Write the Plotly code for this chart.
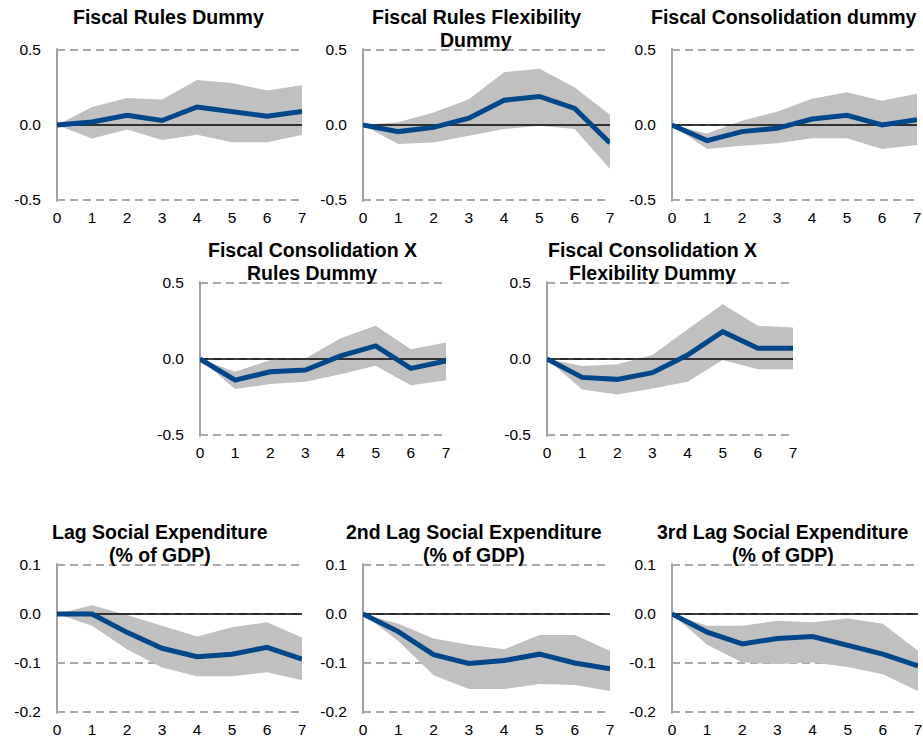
import plotly.graph_objects as go

steps = [0, 1, 2, 3, 4, 5, 6, 7]

# Panel data: (mid, low, high)
fr_mid = [0, 0.02, 0.065, 0.03, 0.12, 0.085, 0.058, 0.09]
fr_lo = [0, -0.09, -0.03, -0.10, -0.065, -0.115, -0.115, -0.067]
fr_hi = [0, 0.12, 0.18, 0.17, 0.30, 0.28, 0.23, 0.265]

frf_mid = [0, -0.044, -0.016, 0.045, 0.165, 0.19, 0.11, -0.12]
frf_lo = [0, -0.127, -0.116, -0.071, -0.027, -0.005, -0.027, -0.293]
frf_hi = [0, 0.018, 0.084, 0.172, 0.352, 0.375, 0.25, 0.069]

fc_mid = [0, -0.104, -0.044, -0.022, 0.04, 0.065, 0.0, 0.035]
fc_lo = [0, -0.16, -0.138, -0.122, -0.089, -0.089, -0.16, -0.133]
fc_hi = [0, -0.056, 0.029, 0.089, 0.175, 0.218, 0.162, 0.209]

fcr_mid = [0, -0.139, -0.084, -0.073, 0.02, 0.086, -0.062, -0.013]
fcr_lo = [0, -0.198, -0.165, -0.15, -0.101, -0.044, -0.172, -0.139]
fcr_hi = [0, -0.084, -0.007, 0.004, 0.137, 0.218, 0.064, 0.108]

fcf_mid = [0, -0.121, -0.134, -0.09, 0.026, 0.18, 0.07, 0.07]
fcf_lo = [0, -0.2, -0.233, -0.194, -0.15, -0.007, -0.068, -0.068]
fcf_hi = [0, -0.046, -0.035, 0.026, 0.196, 0.361, 0.218, 0.207]

ls1_mid = [0, 0.0, -0.0375, -0.07, -0.087, -0.082, -0.068, -0.092]
ls1_lo = [0, -0.024, -0.072, -0.109, -0.127, -0.127, -0.119, -0.135]
ls1_hi = [0, 0.018, -0.002, -0.024, -0.046, -0.027, -0.017, -0.048]

ls2_mid = [0, -0.036, -0.083, -0.101, -0.095, -0.082, -0.1, -0.112]
ls2_lo = [0, -0.055, -0.125, -0.153, -0.153, -0.143, -0.145, -0.157]
ls2_hi = [0, -0.02, -0.05, -0.063, -0.072, -0.043, -0.043, -0.075]

ls3_mid = [0, -0.037, -0.061, -0.05, -0.046, -0.065, -0.082, -0.106]
ls3_lo = [0, -0.063, -0.099, -0.102, -0.099, -0.108, -0.123, -0.157]
ls3_hi = [0, -0.024, -0.024, -0.014, -0.017, -0.009, -0.02, -0.075]

titles = [
    ["Fiscal Rules Dummy"],
    ["Fiscal Rules Flexibility", "Dummy"],
    ["Fiscal Consolidation dummy"],
    ["Fiscal Consolidation X", "Rules Dummy"],
    ["Fiscal Consolidation X", "Flexibility Dummy"],
    ["Lag Social Expenditure", "(% of GDP)"],
    ["2nd Lag Social Expenditure", "(% of GDP)"],
    ["3rd Lag Social Expenditure", "(% of GDP)"],
]

big_ticks = [-0.5, 0.0, 0.5]
big_labels = ["-0.5", "0.0", "0.5"]
small_ticks = [-0.2, -0.1, 0.0, 0.1]
small_labels = ["-0.2", "-0.1", "0.0", "0.1"]

panels = [
    (fr_mid, fr_lo, fr_hi),
    (frf_mid, frf_lo, frf_hi),
    (fc_mid, fc_lo, fc_hi),
    (fcr_mid, fcr_lo, fcr_hi),
    (fcf_mid, fcf_lo, fcf_hi),
    (ls1_mid, ls1_lo, ls1_hi),
    (ls2_mid, ls2_lo, ls2_hi),
    (ls3_mid, ls3_lo, ls3_hi),
]

W, H = 923, 740
# pixel boxes: (x0, x1, ytop, ybottom)
boxes = [
    (57, 302, 50, 200),
    (363, 610, 50, 200),
    (672, 917, 50, 200),
    (200, 446, 283, 435),
    (547, 793, 283, 435),
    (57, 302, 565, 712),
    (363, 610, 565, 712),
    (672, 918, 565, 712),
]
# title centre x and first line centre y (pixels)
title_pos = [
    (168, 17), (476, 17), (784, 17),
    (312, 250), (652, 250),
    (160, 532), (474, 532), (783, 532),
]
LINE_GAP = 23

BAND = "#C0C0C0"
BLUE = "#00468B"
GRID = "#A8A8A8"
AXIS = "#A0A0A0"
FONT = "Liberation Sans"

fig = go.Figure()
layout = dict(
    width=W, height=H, template="none",
    margin=dict(l=0, r=0, t=0, b=0),
    paper_bgcolor="white", plot_bgcolor="white",
    showlegend=False,
    font=dict(family=FONT, size=15, color="black"),
)
annotations = []
shapes = []

for i, ((mid, lo, hi), (x0, x1, yt, yb)) in enumerate(zip(panels, boxes)):
    n = i + 1
    xa = "x" if n == 1 else f"x{n}"
    ya = "y" if n == 1 else f"y{n}"
    fig.add_trace(go.Scatter(
        x=steps + steps[::-1], y=hi + lo[::-1], fill="toself",
        fillcolor=BAND, line=dict(width=0), mode="lines",
        hoverinfo="skip", xaxis=xa, yaxis=ya))
    fig.add_trace(go.Scatter(
        x=[steps[0], steps[-1]], y=[0, 0], mode="lines",
        line=dict(color="black", width=1.3), hoverinfo="skip",
        xaxis=xa, yaxis=ya))
    fig.add_trace(go.Scatter(
        x=steps, y=mid, mode="lines",
        line=dict(color=BLUE, width=5), xaxis=xa, yaxis=ya))

    small = i >= 5
    tv = small_ticks if small else big_ticks
    tt = small_labels if small else big_labels
    lo_r, hi_r = (-0.2, 0.1) if small else (-0.5, 0.5)
    frac = 0.012
    pad = frac * (hi_r - lo_r)
    hpx = yb - yt
    yt2 = yt - frac * hpx
    yb2 = yb + frac * hpx

    xkey = "xaxis" if n == 1 else f"xaxis{n}"
    ykey = "yaxis" if n == 1 else f"yaxis{n}"
    layout[xkey] = dict(
        domain=[x0 / W, x1 / W], range=[0, 7], anchor=ya,
        tickvals=steps, ticktext=[str(s) for s in steps],
        showgrid=False, zeroline=False, showline=False,
        ticks="", ticklabelstandoff=5, automargin=False,
        tickfont=dict(family=FONT, size=15.5, color="black"),
        fixedrange=True,
    )
    layout[ykey] = dict(
        domain=[1 - yb2 / H, 1 - yt2 / H],
        range=[lo_r - pad, hi_r + pad], anchor=xa,
        tickvals=tv, ticktext=tt,
        showgrid=True, gridcolor=GRID, griddash="8px,5px", gridwidth=1.5,
        zeroline=False, showline=False,
        ticks="", ticklabelstandoff=15, automargin=False,
        tickfont=dict(family=FONT, size=15.5, color="black"),
        fixedrange=True,
    )
    # vertical axis line at the left edge of the plot area
    shapes.append(dict(
        type="line", xref=f"{xa} domain", yref=f"{ya} domain",
        x0=0, x1=0, y0=0, y1=1, layer="below",
        line=dict(color=AXIS, width=2),
    ))
    tx, ty = title_pos[i]
    for k, line in enumerate(titles[i]):
        cy = ty + k * LINE_GAP
        annotations.append(dict(
            text=f"<b>{line}</b>", xref="paper", yref="paper",
            x=tx / W, y=1 - cy / H,
            xanchor="center", yanchor="middle",
            showarrow=False, align="center",
            font=dict(family=FONT, size=19.5, color="black"),
        ))

layout["annotations"] = annotations
layout["shapes"] = shapes
fig.update_layout(**layout)
fig.write_html(
    "out.html",
    config={"displayModeBar": False},
    post_script="document.body.style.margin='0';document.body.style.overflow='hidden';",
)
